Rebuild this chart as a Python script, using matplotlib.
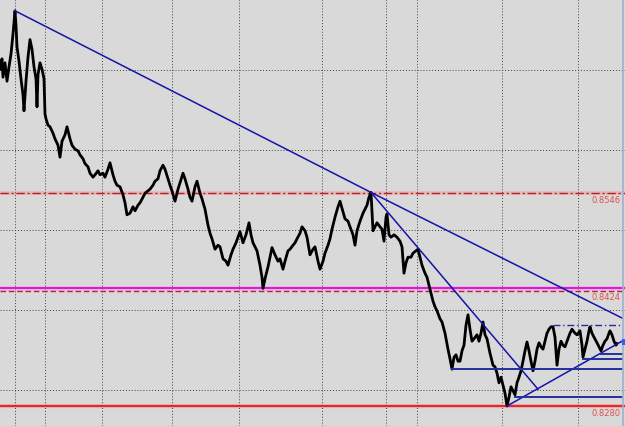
import numpy as np
import matplotlib
matplotlib.use('Agg')
import matplotlib.pyplot as plt

# ---- price series (bar index, close) ---------------------------------------
bars = [0, 2, 3, 5, 7, 9, 11, 13, 15, 16, 17, 19, 21, 23, 24, 26, 28, 30, 32, 34,
        36, 37, 38, 40, 42, 44, 45, 46, 48, 50, 53, 55, 58, 60, 62, 65, 67, 70, 72, 75,
        78, 80, 83, 85, 88, 90, 93, 95, 98, 100, 103, 105, 108, 110, 113, 115, 117, 120, 123, 125,
        127, 130, 133, 135, 138, 140, 143, 145, 148, 150, 153, 155, 158, 160, 163, 165, 168, 170, 172, 175,
        178, 180, 183, 185, 188, 190, 192, 195, 197, 200, 202, 205, 208, 210, 212, 215, 218, 220, 223, 226,
        228, 231, 233, 236, 238, 240, 243, 246, 249, 251, 253, 255, 257, 260, 262, 263, 265, 268, 270, 272,
        275, 278, 280, 283, 285, 288, 290, 293, 295, 297, 300, 302, 305, 307, 310, 313, 315, 318, 320, 323,
        325, 328, 330, 332, 335, 338, 340, 343, 345, 348, 350, 353, 355, 357, 360, 363, 365, 367, 369, 371,
        373, 375, 377, 380, 382, 384, 386, 387, 389, 391, 394, 397, 400, 402, 404, 406, 408, 411, 413, 415,
        418, 420, 422, 425, 427, 430, 433, 435, 437, 440, 442, 445, 448, 450, 452, 454, 456, 458, 460, 462,
        464, 466, 468, 470, 472, 474, 477, 479, 481, 483, 485, 487, 490, 493, 495, 497, 499, 501, 503, 505,
        507, 509, 511, 513, 515, 517, 519, 521, 523, 525, 527, 529, 531, 533, 535, 537, 539, 541, 543, 545,
        547, 549, 551, 553, 555, 557, 559, 561, 563, 565, 568, 570, 572, 575, 577, 580, 582, 583, 585, 587,
        589, 590, 592, 594, 597, 599, 601, 603, 605, 607, 609, 610, 612, 614, 616, 617]
closes = [0.8701, 0.8714, 0.8691, 0.8709, 0.8686, 0.8704, 0.8720, 0.8745, 0.8774, 0.8756,
          0.8729, 0.8711, 0.8689, 0.8669, 0.8649, 0.8686, 0.8716, 0.8738, 0.8726, 0.8704,
          0.8689, 0.8654, 0.8694, 0.8709, 0.8701, 0.8689, 0.8645, 0.8639, 0.8631, 0.8629,
          0.8621, 0.8614, 0.8606, 0.8591, 0.8611, 0.8619, 0.8629, 0.8614, 0.8606, 0.8601,
          0.8599, 0.8594, 0.8589, 0.8583, 0.8579, 0.8571, 0.8566, 0.8569, 0.8574, 0.8569,
          0.8571, 0.8566, 0.8576, 0.8584, 0.8569, 0.8561, 0.8556, 0.8554, 0.8544, 0.8534,
          0.8519, 0.8521, 0.8529, 0.8524, 0.8531, 0.8534, 0.8541, 0.8546, 0.8549, 0.8551,
          0.8556, 0.8561, 0.8564, 0.8574, 0.8581, 0.8576, 0.8564, 0.8556, 0.8549, 0.8536,
          0.8551, 0.8559, 0.8571, 0.8564, 0.8551, 0.8541, 0.8536, 0.8554, 0.8561, 0.8546,
          0.8539, 0.8526, 0.8506, 0.8496, 0.8489, 0.8476, 0.8481, 0.8479, 0.8464, 0.8461,
          0.8456, 0.8469, 0.8476, 0.8484, 0.8491, 0.8498, 0.8484, 0.8494, 0.8509, 0.8494,
          0.8484, 0.8479, 0.8474, 0.8456, 0.8441, 0.8427, 0.8439, 0.8454, 0.8466, 0.8478,
          0.8469, 0.8461, 0.8464, 0.8451, 0.8461, 0.8474, 0.8476, 0.8481, 0.8484, 0.8489,
          0.8496, 0.8504, 0.8499, 0.8491, 0.8469, 0.8476, 0.8479, 0.8461, 0.8451, 0.8461,
          0.8471, 0.8481, 0.8489, 0.8501, 0.8516, 0.8529, 0.8536, 0.8523, 0.8514, 0.8511,
          0.8504, 0.8494, 0.8481, 0.8499, 0.8511, 0.8521, 0.8526, 0.8531, 0.8541, 0.8547,
          0.8499, 0.8504, 0.8509, 0.8504, 0.8501, 0.8486, 0.8516, 0.8520, 0.8494, 0.8491,
          0.8494, 0.8491, 0.8486, 0.8479, 0.8446, 0.8459, 0.8466, 0.8466, 0.8471, 0.8473,
          0.8476, 0.8466, 0.8456, 0.8446, 0.8441, 0.8426, 0.8411, 0.8404, 0.8399, 0.8389,
          0.8385, 0.8371, 0.8351, 0.8339, 0.8326, 0.8341, 0.8344, 0.8336, 0.8336, 0.8349,
          0.8356, 0.8381, 0.8394, 0.8376, 0.8361, 0.8364, 0.8369, 0.8361, 0.8371, 0.8385,
          0.8369, 0.8364, 0.8346, 0.8331, 0.8329, 0.8321, 0.8309, 0.8316, 0.8306, 0.8296,
          0.8280, 0.8291, 0.8304, 0.8299, 0.8294, 0.8309, 0.8316, 0.8324, 0.8336, 0.8349,
          0.8360, 0.8349, 0.8336, 0.8324, 0.8336, 0.8351, 0.8359, 0.8354, 0.8351, 0.8361,
          0.8371, 0.8376, 0.8379, 0.8379, 0.8366, 0.8331, 0.8351, 0.8361, 0.8356, 0.8354,
          0.8364, 0.8371, 0.8376, 0.8371, 0.8369, 0.8374, 0.8356, 0.8341, 0.8351, 0.8361,
          0.8374, 0.8379, 0.8371, 0.8366, 0.8359, 0.8354, 0.8349, 0.8356, 0.8361, 0.8364,
          0.8371, 0.8374, 0.8369, 0.8361, 0.8356, 0.8358]

# ---- drawn objects -----------------------------------------------------------
# trendlines: (bar0, price0, bar1, price1)
trend_lines = [(15, 0.8774, 371, 0.8547),
               (371, 0.8547, 622, 0.8390),
               (371, 0.8547, 538, 0.8301),
               (507, 0.8280, 622, 0.8361)]
# short horizontal support lines: (start bar, price)
supports = [(452, 0.8326), (515, 0.8291), (583, 0.8339), (601, 0.8345)]
range_top = (553, 0.8381)
level_prices = [0.8546, 0.8424, 0.8280]
magenta_level = 0.84275

grid_x = [15, 45, 102, 172, 239, 322, 386, 417, 502, 578]
grid_y = [0.83, 0.84, 0.85, 0.86, 0.87]
right_edge = 622

# ---- figure ------------------------------------------------------------------
fig = plt.figure(figsize=(6.25, 4.27), dpi=100)
ax = fig.add_axes([0, 0, 1, 1])
ax.set_facecolor('#d9d9d9')
ax.set_xlim(0, 625)
ax.set_ylim(0.8255, 0.878875)

ax.set_xticks(grid_x)
ax.set_yticks(grid_y)
ax.tick_params(length=0, labelbottom=False, labelleft=False)
ax.grid(True, color='#404040', linestyle=(0, (1, 2)), linewidth=0.7)
for s in ax.spines.values():
    s.set_visible(False)

# levels
ax.axhline(0.8546, color='#eab4b4', lw=2.6, zorder=1)
ax.axhline(0.8546, color='#b02424', lw=1.0, ls=(0, (6, 2, 1.5, 2)), zorder=2)
ax.axhline(magenta_level, color='#f0acf0', lw=3.5, zorder=1)
ax.axhline(magenta_level, color='#cc22cc', lw=1.4, zorder=2)
ax.axhline(0.8424, color='#b02828', lw=1.0, ls=(0, (4, 2)), zorder=2)
ax.axhline(0.8280, color='#eeaaaa', lw=3, zorder=1)
ax.axhline(0.8280, color='#d82020', lw=1.3, zorder=2)

for p in level_prices:
    ax.text(621, p - 0.0002, f'{p:.4f}', color='#e05050', fontsize=6,
            ha='right', va='top', zorder=4)

# price
ax.plot(bars, closes, color='black', lw=2.0, zorder=3)

# trendlines
for b0, p0, b1, p1 in trend_lines:
    ax.plot([b0, b1], [p0, p1], color='#1414a8', lw=1.1, zorder=3)
for b0, p0 in supports:
    ax.plot([b0, right_edge], [p0, p0], color='#22309c', lw=1.4, zorder=3)
ax.plot([range_top[0], right_edge], [range_top[1]] * 2, color='#22309c', lw=1,
        ls=(0, (5, 2, 1, 2)), zorder=3)

# chart right border and last-price marker
ax.axvline(right_edge + 0.5, color='#9fb0cc', lw=1.2, zorder=4)
ax.plot([right_edge + 2, right_edge + 2], [0.8356, 0.8364], color='#2f62f0',
        lw=3, solid_capstyle='butt', zorder=4)

fig.savefig('out.png', dpi=100)
